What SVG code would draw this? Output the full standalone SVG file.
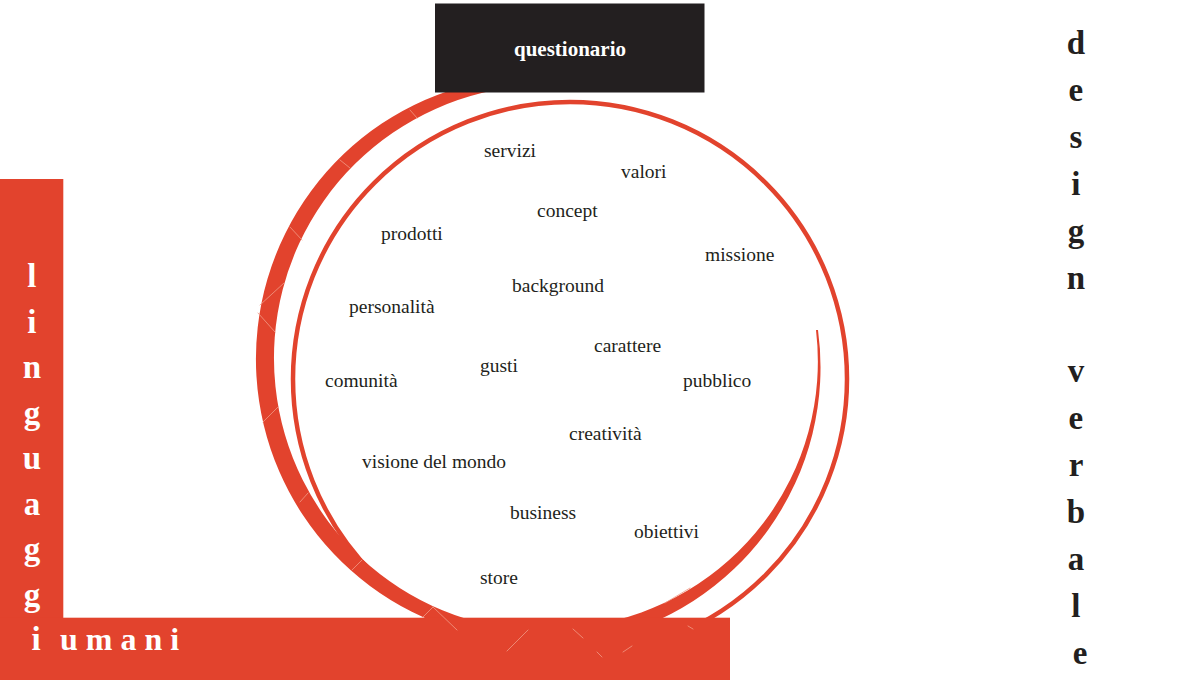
<svg xmlns="http://www.w3.org/2000/svg" width="1200" height="680" viewBox="0 0 1200 680">
<style>
.red{fill:#e2432d}
.ring{fill:none;stroke:#e2432d;stroke-width:4.5}
.tick{stroke:#f19a86;stroke-width:1;fill:none;stroke-linecap:round;opacity:0.8}
.w{font-family:"Liberation Serif","Times New Roman",serif;font-size:19.5px;fill:#231f20}
.v{font-family:"Liberation Serif","Times New Roman",serif;font-weight:bold;font-size:33px;text-anchor:middle}
</style>
<rect width="1200" height="680" fill="#ffffff"/>
<g id="connectors">
  <circle class="ring" cx="570" cy="379" r="277"/>
  <path id="spiral-left" class="red" d="M457.5,630 A283,283 0 0 1 520,76.6 L530,85.6 A273,273 0 0 0 489.7,625 Z"/>
  <path id="spiral-right" class="red" d="M818,330 A277.9,277.9 0 0 1 596.6,640 L591.8,625 A266.6,266.6 0 0 0 816,330 Z"/>
  <g id="texture">
    <line class="tick" x1="340" y1="160" x2="350" y2="168"/>
    <line class="tick" x1="290" y1="227" x2="302" y2="240"/>
    <line class="tick" x1="410" y1="110" x2="417" y2="118"/>
    <line class="tick" x1="260" y1="305" x2="284" y2="283"/>
    <line class="tick" x1="258" y1="313" x2="275" y2="332"/>
    <line class="tick" x1="263" y1="422" x2="278" y2="407"/>
    <line class="tick" x1="300" y1="502" x2="308" y2="493"/>
    <line class="tick" x1="352" y1="570" x2="362" y2="560"/>
    <line class="tick" x1="423" y1="617" x2="433" y2="607"/>
    <line class="tick" x1="665" y1="603" x2="690" y2="588"/>
  </g>
</g>
<g id="node-questionario">
  <rect x="435" y="3.5" width="269.5" height="89" fill="#231f20"/>
  <text x="570" y="56" font-family="'Liberation Serif','Times New Roman',serif" font-weight="bold" font-size="21" fill="#ffffff" text-anchor="middle">questionario</text>
</g>
<g id="node-linguaggi-umani">
  <rect x="0" y="179" width="63.3" height="501" class="red"/>
  <rect x="0" y="617.7" width="730" height="62.3" class="red"/>
  <g id="bar-texture">
    <line class="tick" x1="433" y1="607" x2="457" y2="630"/>
    <line class="tick" x1="507" y1="651" x2="528" y2="630"/>
    <line class="tick" x1="573" y1="629" x2="583" y2="638"/>
    <line class="tick" x1="597" y1="652" x2="602" y2="657"/>
    <line class="tick" x1="623" y1="652" x2="632" y2="646"/>
    <line class="tick" x1="688" y1="626" x2="693" y2="629"/>
  </g>
  <text class="v" fill="#ffffff">
    <tspan x="36" y="287">l</tspan>
    <tspan x="36" y="332.5">i</tspan>
    <tspan x="36" y="378">n</tspan>
    <tspan x="36" y="423.5">g</tspan>
    <tspan x="36" y="469">u</tspan>
    <tspan x="36" y="514.5">a</tspan>
    <tspan x="36" y="560">g</tspan>
    <tspan x="36" y="605.5">g</tspan>
    <tspan x="36" y="650">i</tspan>
  </text>
  <text x="60" y="650" font-family="'Liberation Serif','Times New Roman',serif" font-weight="bold" font-size="32" fill="#ffffff" letter-spacing="8">umani</text>
</g>
<g id="node-design-verbale">
  <text class="v" fill="#231f20" font-size="34">
    <tspan x="1080" y="54">d</tspan>
    <tspan x="1080" y="100.9">e</tspan>
    <tspan x="1080" y="147.8">s</tspan>
    <tspan x="1080" y="194.7">i</tspan>
    <tspan x="1080" y="241.6">g</tspan>
    <tspan x="1080" y="288.5">n</tspan>
    <tspan x="1080" y="382.3">v</tspan>
    <tspan x="1080" y="429.2">e</tspan>
    <tspan x="1080" y="476.1">r</tspan>
    <tspan x="1080" y="523">b</tspan>
    <tspan x="1080" y="569.9">a</tspan>
    <tspan x="1080" y="616.8">l</tspan>
    <tspan x="1080" y="663.7">e</tspan>
  </text>
</g>
<g id="node-words">
  <text class="w" x="484" y="157">servizi</text>
  <text class="w" x="621" y="178">valori</text>
  <text class="w" x="537" y="217">concept</text>
  <text class="w" x="381" y="240">prodotti</text>
  <text class="w" x="705" y="261">missione</text>
  <text class="w" x="512" y="292">background</text>
  <text class="w" x="349" y="313">personalità</text>
  <text class="w" x="594" y="352">carattere</text>
  <text class="w" x="480" y="372">gusti</text>
  <text class="w" x="325" y="387">comunità</text>
  <text class="w" x="683" y="387">pubblico</text>
  <text class="w" x="569" y="440">creatività</text>
  <text class="w" x="362" y="468">visione del mondo</text>
  <text class="w" x="510" y="519">business</text>
  <text class="w" x="634" y="538">obiettivi</text>
  <text class="w" x="480" y="584">store</text>
</g>
</svg>
